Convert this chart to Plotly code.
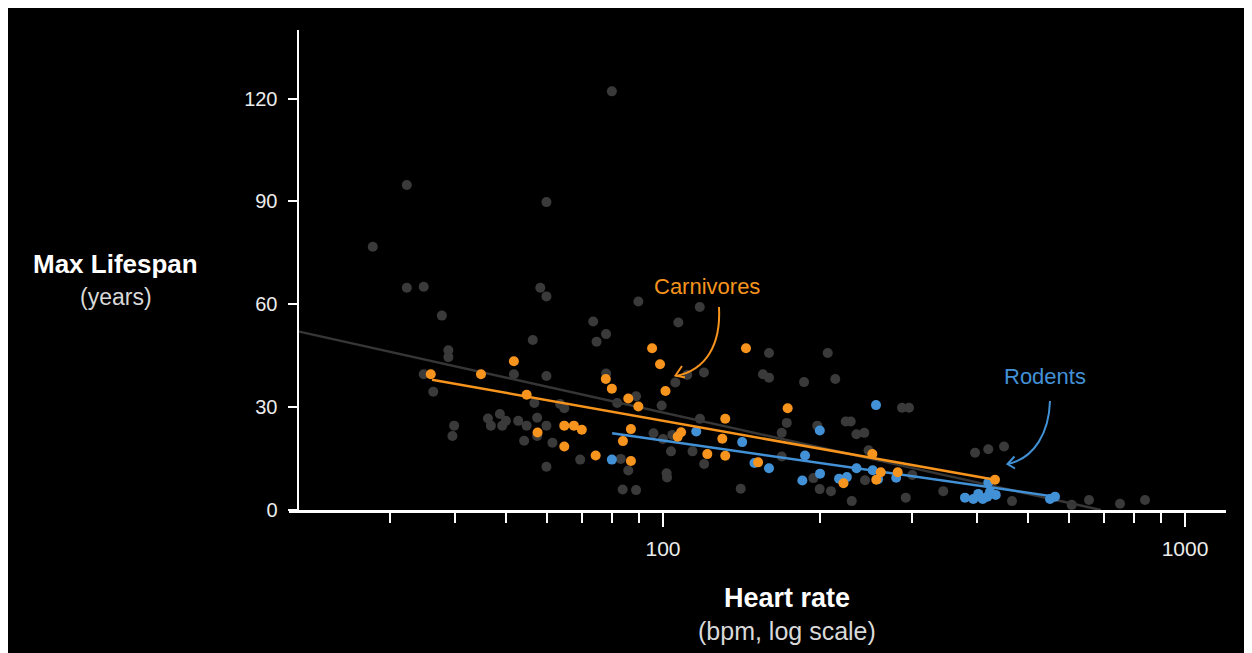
import plotly.graph_objects as go

# ---------------- data ----------------
other_hr = [79.8, 32.3, 59.8, 27.8, 32.3, 34.8, 58.2, 59.8, 37.7, 73.5,
            77.8, 74.6, 56.3, 38.8, 38.8, 34.8, 51.8, 59.8, 77.8, 36.3,
            56.7, 63.5, 64.7, 81.7, 46.2, 48.7, 50.0, 46.8, 49.2, 52.8,
            54.8, 57.4, 59.8, 39.8, 39.5, 54.2, 57.4, 61.4, 69.4, 59.8,
            89.7, 117.6, 107.0, 159.6, 206.8, 119.8, 111.3, 155.4, 159.6, 186.3,
            213.8, 105.6, 88.8, 99.4, 287.0, 296.0, 172.6, 117.7, 223.9, 228.9,
            197.5, 168.8, 95.9, 104.2, 234.7, 243.0, 100.0, 103.6, 113.9, 119.9,
            83.0, 85.8, 101.6, 101.8, 168.8, 194.1, 199.6, 209.8, 243.8, 247.6,
            83.7, 88.8, 140.9, 229.9, 291.8, 300.3, 396.1, 419.9, 450.1, 344.3,
            466.2, 606.7, 654.8, 750.7, 838.3]
other_life = [122.1, 94.8, 89.8, 76.8, 64.8, 65.1, 64.8, 62.3, 56.7, 55.0,
              51.3, 49.1, 49.6, 46.6, 44.6, 39.6, 39.6, 39.1, 39.8, 34.5,
              31.2, 30.9, 29.7, 31.2, 26.7, 28.0, 26.0, 24.6, 24.6, 26.0,
              24.6, 26.9, 24.6, 24.6, 21.6, 20.2, 21.6, 19.6, 14.7, 12.6,
              60.8, 59.2, 54.7, 45.8, 45.8, 40.1, 39.4, 39.6, 38.6, 37.3,
              38.2, 37.2, 33.2, 30.5, 29.8, 29.8, 25.4, 26.6, 25.8, 25.8,
              24.6, 22.5, 22.4, 21.9, 22.1, 22.5, 20.7, 17.1, 17.1, 13.4,
              14.9, 11.5, 10.7, 9.5, 15.6, 9.3, 6.1, 5.5, 8.7, 17.4,
              6.0, 5.8, 6.2, 2.6, 3.6, 10.2, 16.7, 17.7, 18.5, 5.5,
              2.6, 1.5, 2.9, 1.8, 2.9]

carn_hr = [35.9, 44.8, 51.8, 54.8, 77.7, 79.8, 57.5, 64.7, 67.5, 69.9,
           64.7, 74.3, 95.3, 98.7, 144.2, 101.1, 85.8, 89.7, 173.3, 131.6,
           86.8, 83.8, 108.3, 106.7, 129.9, 121.6, 131.6, 86.8, 152.1, 251.8,
           261.3, 281.6, 221.7, 256.2, 432.5]
carn_life = [39.6, 39.6, 43.4, 33.6, 38.2, 35.4, 22.6, 24.6, 24.6, 23.4,
             18.5, 15.9, 47.2, 42.5, 47.2, 34.7, 32.5, 30.2, 29.7, 26.6,
             23.6, 20.1, 22.7, 21.4, 20.8, 16.3, 15.8, 14.3, 13.9, 16.3,
             11.0, 11.0, 7.8, 8.8, 8.8]

rod_hr = [79.8, 115.8, 141.8, 149.7, 159.6, 199.7, 187.1, 184.9, 199.9, 217.4,
          225.0, 234.8, 252.2, 258.2, 279.7, 255.9, 419.9, 378.9, 393.1, 401.8,
          409.7, 418.1, 423.1, 433.9, 551.3, 563.6]
rod_life = [14.7, 22.9, 19.8, 13.7, 12.2, 23.2, 15.9, 8.6, 10.6, 9.1,
            9.6, 12.2, 11.6, 9.0, 9.4, 30.6, 8.0, 3.6, 3.2, 4.7,
            3.2, 3.9, 5.3, 4.4, 3.2, 3.9]

# fitted trend lines (end points)
all_fit_hr = [20.0, 690.0]
all_fit_life = [52.1, 0.0]
carn_fit_hr = [36.1, 432.5]
carn_fit_life = [38.0, 8.8]
rod_fit_hr = [79.9, 563.6]
rod_fit_life = [22.4, 3.9]

y_ticks = [0, 30, 60, 90, 120]
x_ticks = [100, 1000]
x_minor = [30, 40, 50, 60, 70, 80, 90, 200, 300, 400, 500, 600, 700, 800, 900]

# ---------------- styling ----------------
GRAY = "#3a3a3a"
ORANGE = "#f7941d"
BLUE = "#4291d6"
FONT = "Liberation Sans, Arial, Helvetica, sans-serif"
MS = 10

fig = go.Figure()
fig.add_trace(go.Scatter(x=other_hr, y=other_life, mode="markers",
                         marker=dict(color=GRAY, size=MS, line=dict(width=0)),
                         hoverinfo="skip"))
fig.add_trace(go.Scatter(x=all_fit_hr, y=all_fit_life, mode="lines",
                         line=dict(color="#363636", width=2.5), hoverinfo="skip"))
fig.add_trace(go.Scatter(x=rod_hr, y=rod_life, mode="markers",
                         marker=dict(color=BLUE, size=MS, line=dict(width=0)),
                         hoverinfo="skip"))
fig.add_trace(go.Scatter(x=rod_fit_hr, y=rod_fit_life, mode="lines",
                         line=dict(color=BLUE, width=2.5), hoverinfo="skip"))
fig.add_trace(go.Scatter(x=carn_hr, y=carn_life, mode="markers",
                         marker=dict(color=ORANGE, size=MS, line=dict(width=0)),
                         hoverinfo="skip"))
fig.add_trace(go.Scatter(x=carn_fit_hr, y=carn_fit_life, mode="lines",
                         line=dict(color=ORANGE, width=2.5), hoverinfo="skip"))

# plot area as seen on screen (page body adds an 8px offset)
OFF = 8
FIG_W, FIG_H = 1262, 663
L, R, T, B = 289, 1226, 30, 510
W, H = R - L, B - T


def px(xp):
    return (xp - L) / W


def py(yp):
    return (B - yp) / H


# curved annotation arrows (paper coords)
carn_arrow = "M {},{} C {},{} {},{} {},{}".format(
    px(719), py(307), px(721), py(345), px(706), py(370), px(676), py(376))
carn_head = "M {},{} L {},{} L {},{}".format(
    px(682), py(366), px(675.5), py(375.5), px(685), py(377.5))
rod_arrow = "M {},{} C {},{} {},{} {},{}".format(
    px(1050), py(401), px(1049), py(432), px(1035), py(458), px(1008), py(464))
rod_head = "M {},{} L {},{} L {},{}".format(
    px(1014.5), py(456.5), px(1007.5), py(464), px(1015), py(468.5))

shapes = [
    dict(type="path", path=carn_arrow, xref="paper", yref="paper",
         line=dict(color=ORANGE, width=2)),
    dict(type="path", path=carn_head, xref="paper", yref="paper",
         line=dict(color=ORANGE, width=2)),
    dict(type="path", path=rod_arrow, xref="paper", yref="paper",
         line=dict(color=BLUE, width=2)),
    dict(type="path", path=rod_head, xref="paper", yref="paper",
         line=dict(color=BLUE, width=2)),
]

annotations = [
    dict(text="Carnivores", x=px(707), y=py(286), xref="paper", yref="paper",
         showarrow=False, font=dict(color=ORANGE, size=22, family=FONT),
         xanchor="center", yanchor="middle"),
    dict(text="Rodents", x=px(1045), y=py(376), xref="paper", yref="paper",
         showarrow=False, font=dict(color=BLUE, size=22, family=FONT),
         xanchor="center", yanchor="middle"),
    dict(text="<b>Max Lifespan</b>", x=px(115.5), y=py(264), xref="paper", yref="paper",
         showarrow=False, font=dict(color="white", size=26, family=FONT),
         xanchor="center", yanchor="middle"),
    dict(text="(years)", x=px(115.5), y=py(297), xref="paper", yref="paper",
         showarrow=False, font=dict(color="#d9d9d9", size=23, family=FONT),
         xanchor="center", yanchor="middle"),
    dict(text="<b>Heart rate</b>", x=px(787), y=py(598), xref="paper", yref="paper",
         showarrow=False, font=dict(color="white", size=27, family=FONT),
         xanchor="center", yanchor="middle"),
    dict(text="(bpm, log scale)", x=px(787), y=py(631), xref="paper", yref="paper",
         showarrow=False, font=dict(color="#d9d9d9", size=25, family=FONT),
         xanchor="center", yanchor="middle"),
]

fig.update_layout(
    width=FIG_W, height=FIG_H,
    margin=dict(l=L - OFF, r=FIG_W - R + OFF, t=T - OFF, b=FIG_H - B + OFF, pad=0),
    paper_bgcolor="black", plot_bgcolor="black",
    showlegend=False,
    font=dict(family=FONT, color="white"),
    shapes=shapes, annotations=annotations,
    xaxis=dict(type="log", range=[1.28352, 3.07854], domain=[0, 1],
               showline=True, linecolor="white", linewidth=2.5,
               showgrid=False, zeroline=False,
               tickmode="array", tickvals=x_ticks, ticktext=[str(v) for v in x_ticks],
               ticks="outside", ticklen=14, tickwidth=2, tickcolor="white",
               tickfont=dict(size=21, color="#ececec", family=FONT),
               ticklabelstandoff=4,
               minor=dict(tickmode="array", tickvals=x_minor, ticks="outside",
                          ticklen=10, tickwidth=2, tickcolor="white", showgrid=False)),
    yaxis=dict(range=[0, 140], anchor="free", position=px(297.5),
               showline=True, linecolor="white", linewidth=2,
               showgrid=False, zeroline=False,
               tickmode="array", tickvals=y_ticks,
               ticks="outside", ticklen=9, tickwidth=2, tickcolor="white",
               ticklabelstandoff=6,
               tickfont=dict(size=20, color="#ececec", family=FONT)),
)

fig.write_html("out.html", default_width="%dpx" % FIG_W, default_height="%dpx" % FIG_H)
